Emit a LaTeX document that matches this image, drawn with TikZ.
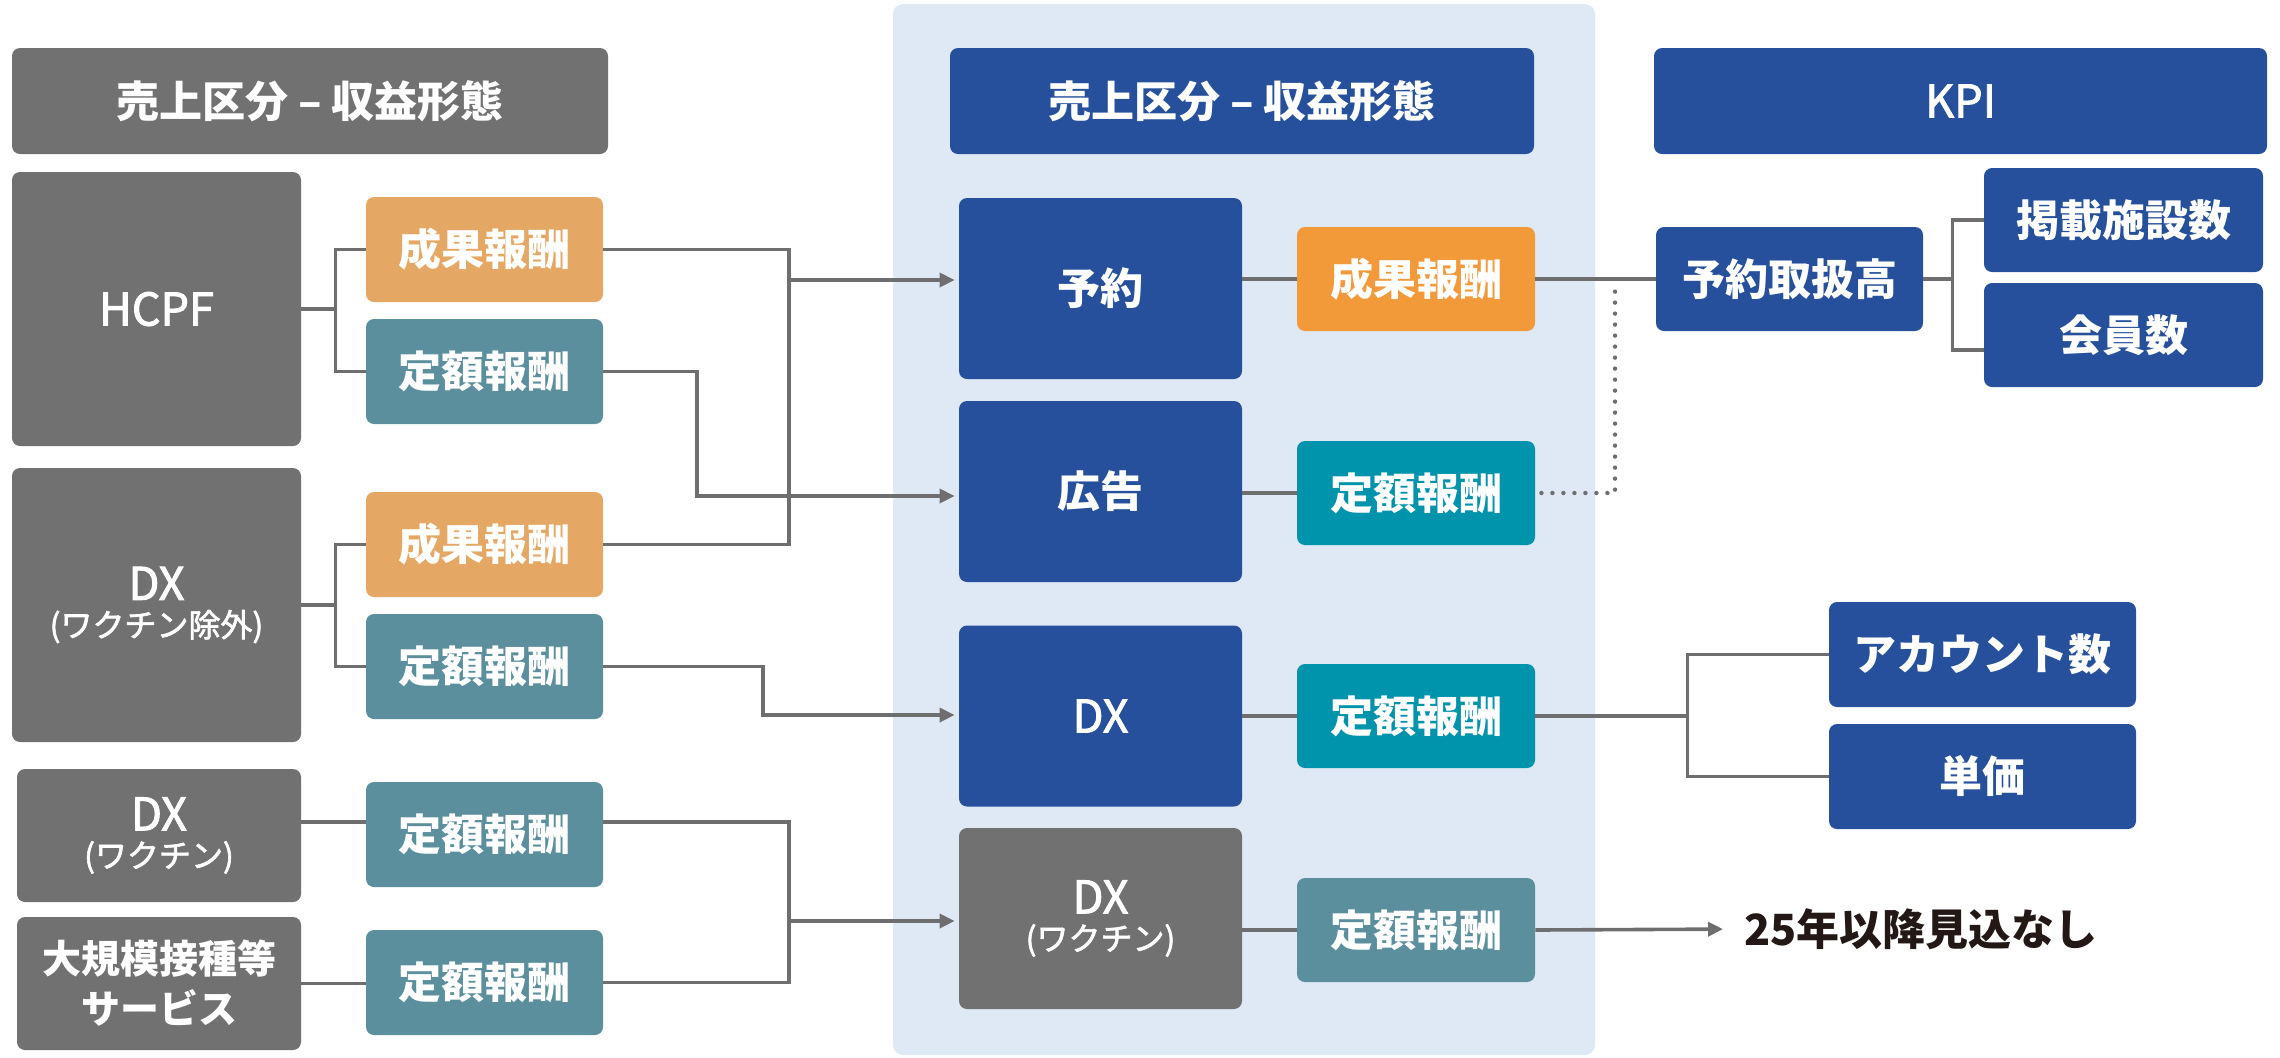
\documentclass[tikz,border=0pt]{standalone}
\usepackage{fontspec}
\setmainfont{Noto Sans CJK JP}
\newfontfamily\latfam{Noto Sans CJK JP}[FakeBold=2]
\usetikzlibrary{arrows.meta}
\definecolor{gbox}{HTML}{717171}
\definecolor{orL}{HTML}{E5A764}
\definecolor{orM}{HTML}{F2993A}
\definecolor{tlL}{HTML}{5B8F9D}
\definecolor{tlM}{HTML}{0093AC}
\definecolor{bl}{HTML}{26509B}
\definecolor{pnl}{HTML}{DEE9F5}
\definecolor{ln}{HTML}{6E6E6E}
\definecolor{txt}{HTML}{231815}
\newcommand\jpb{\bfseries\fontsize{21.5}{26}\selectfont}
\newcommand\latn{\latfam\fontsize{22.5}{26}\selectfont}
\newcommand\smallp{\latfam\fontsize{16}{18.5}\selectfont}
\tikzset{
  box/.style={rounded corners=4pt, inner sep=0pt, text=white, align=center, font=\jpb},
  hdr/.style={box, minimum height=53pt},
  lbox/.style={box, minimum width=118.5pt, minimum height=52.5pt},
  mbig/.style={box, minimum width=141.5pt, minimum height=90.5pt},
  msm/.style={box, minimum width=119pt, minimum height=52pt},
  kbox/.style={box, fill=bl, minimum height=52pt},
  conn/.style={draw=ln, line width=1.8pt},
  arr/.style={conn, -{Triangle[length=7.5pt,width=7pt]}, shorten >=2pt},
  dotl/.style={draw=ln, line width=2.2pt, line cap=round, dash pattern=on 0pt off 5.5pt},
}
\begin{document}
\begin{tikzpicture}[x=0.5pt,y=-0.5pt]
\useasboundingbox (0,0) rectangle (2280,1057);
\fill[pnl, rounded corners=5pt] (893,4) rectangle (1595,1055);

% headers
\node[hdr, fill=gbox, minimum width=298pt] (hdrL) at (310,101) {売上区分 – 収益形態};
\node[hdr, fill=bl, minimum width=292pt] (hdrM) at (1242,101) {売上区分 – 収益形態};
\node[hdr, fill=bl, minimum width=306.5pt, font=\latn] (kpi) at (1960.5,101) {KPI};

% left column
\node[box, fill=gbox, minimum width=144.5pt, minimum height=137pt, font=\latn] (hcpf) at (156.5,309) {HCPF};
\node[box, fill=gbox, minimum width=144.5pt, minimum height=137pt, font=\smallp] (dx1) at (156.5,605) {{\latn DX}\\(ワクチン除外)};
\node[box, fill=gbox, minimum width=142pt, minimum height=66.5pt, font=\smallp] (dxv) at (159,835.5) {{\latn DX}\\(ワクチン)};
\node[box, fill=gbox, minimum width=142pt, minimum height=66.5pt, font=\bfseries\fontsize{19.5}{25}\selectfont] (dai) at (159,983.5) {大規模接種等\\サービス};

\node[lbox, fill=orL] (L1s) at (484.5,249.5) {成果報酬};
\node[lbox, fill=tlL] (L1t) at (484.5,371.5) {定額報酬};
\node[lbox, fill=orL] (L2s) at (484.5,544.5) {成果報酬};
\node[lbox, fill=tlL] (L2t) at (484.5,666.5) {定額報酬};
\node[lbox, fill=tlL] (L3t) at (484.5,834.5) {定額報酬};
\node[lbox, fill=tlL] (L4t) at (484.5,982.5) {定額報酬};

% middle column
\node[mbig, fill=bl] (yoyaku) at (1100.5,288.5) {予約};
\node[mbig, fill=bl] (kokoku) at (1100.5,491.5) {広告};
\node[mbig, fill=bl, font=\latn] (dxm) at (1100.5,716) {DX};
\node[mbig, fill=gbox, font=\smallp] (dxvm) at (1100.5,918.5) {{\latn DX}\\(ワクチン)};

\node[msm, fill=orM] (Ms) at (1416,279) {成果報酬};
\node[msm, fill=tlM] (Mt1) at (1416,493) {定額報酬};
\node[msm, fill=tlM] (Mt2) at (1416,716) {定額報酬};
\node[msm, fill=tlL] (Mt3) at (1416,930) {定額報酬};

% KPI column
\node[kbox, minimum width=133.5pt] (yt) at (1789.5,279) {予約取扱高};
\node[kbox, minimum width=139.5pt] (keisai) at (2123.5,220) {掲載施設数};
\node[kbox, minimum width=139.5pt] (kaiin) at (2123.5,335) {会員数};
\node[kbox, minimum width=153.5pt, minimum height=52.5pt] (account) at (1982.5,654.5) {アカウント数};
\node[kbox, minimum width=153.5pt, minimum height=52.5pt] (tanka) at (1982.5,776.5) {単価};
\node[inner sep=0pt, anchor=west, text=txt, font=\jpb] (note) at (1744,929) {25年以降見込なし};

% left fan-outs
\draw[conn] (hcpf.east) -- ++(34,0) coordinate (b1) |- (L1s.west);
\draw[conn] (b1) |- (L1t.west);
\draw[conn] (dx1.east) -- ++(34,0) coordinate (b2) |- (L2s.west);
\draw[conn] (b2) |- (L2t.west);
\coordinate (r3) at (0,822);
\draw[conn] (dxv.east |- r3) -- (L3t.west |- r3);
\draw[conn] (dai.east) -- (dai.east -| L4t.west);

% into middle
\coordinate (j1) at (789,280);
\draw[conn] (L1s.east) -| (j1);
\draw[conn] (L2s.east) -| (j1);
\draw[arr] (j1) -- (yoyaku.west |- j1);
\draw[arr] (L1t.east) -| (697,496) -- (kokoku.west |- 0,496);
\draw[arr] (L2t.east) -| (763,715) -- (dxm.west |- 0,715);
\coordinate (j3) at (789,921);
\draw[conn] (L3t.east |- r3) -| (j3);
\draw[conn] (L4t.east) -| (j3);
\draw[arr] (j3) -- (dxvm.west |- j3);

% middle internal
\draw[conn] (yoyaku.east |- Ms.west) -- (Ms.west);
\draw[conn] (kokoku.east |- Mt1.west) -- (Mt1.west);
\draw[conn] (dxm.east |- Mt2.west) -- (Mt2.west);
\draw[conn] (dxvm.east |- Mt3.west) -- (Mt3.west);

% to KPI
\draw[conn] (Ms.east) -- (yt.west);
\draw[dotl] (Mt1.east) ++(6,0) -| (1615,283);
\draw[conn] (yt.east) -- ++(29,0) coordinate (b5) |- (keisai.west);
\draw[conn] (b5) |- (kaiin.west |- 0,350);
\draw[conn] (Mt2.east) -- ++(152,0) coordinate (b6) |- (account.west);
\draw[conn] (b6) |- (tanka.west);
\draw[arr, shorten >=10.5pt] (Mt3.east) -- (note.west);
\end{tikzpicture}
\end{document}
